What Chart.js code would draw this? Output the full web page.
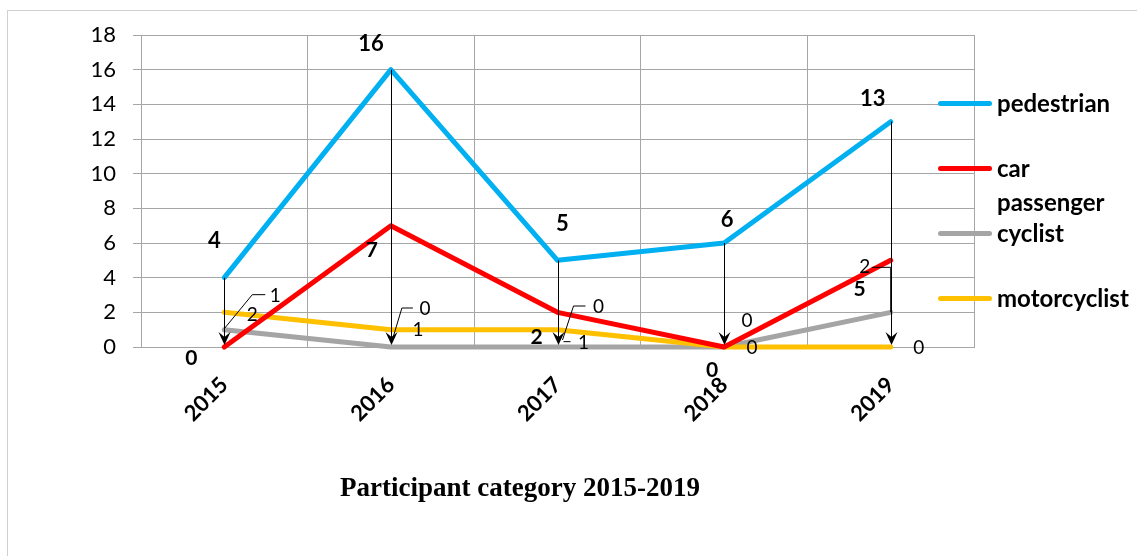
<!DOCTYPE html>
<html>
<head>
<meta charset="utf-8">
<script src="https://cdn.jsdelivr.net/npm/chart.js@4.4.1/dist/chart.umd.min.js"></script>
<style>
    html, body { margin: 0; padding: 0; background: #fff; }
    #contenedor { position: relative; width: 1137px; height: 556px; overflow: hidden; }
    #marco { position: absolute; left: 7px; top: 10px; width: 1200px; height: 600px; border: 1px solid #D0D0D0; }
    #grafico { position: absolute; left: 0; top: 0; }
    .leyenda-item { position: absolute; left: 938px; }
    .leyenda-linea { position: absolute; left: 0; width: 54px; height: 5px; border-radius: 3px; }
    .leyenda-texto { position: absolute; left: 59px; width: 125px; font: bold 24px Lato, sans-serif; line-height: 34px; color: #000; white-space: normal; }
    #titulo { position: absolute; left: 340px; top: 472px; font: bold 27px "Liberation Serif", serif; color: #000; white-space: nowrap; }
</style>
</head>
<body>
<div id="contenedor">
    <div id="marco"></div>
    <canvas id="grafico" width="1137" height="556"></canvas>
    <div id="leyenda"></div>
    <div id="titulo">Participant category 2015-2019</div>
</div>
<script>
const categorias = ['2015', '2016', '2017', '2018', '2019'];
const nombresSeries = ['pedestrian', 'car passenger', 'cyclist', 'motorcyclist'];
const pedestrian = [4, 16, 5, 6, 13];
const carPassenger = [0, 7, 2, 0, 5];
const cyclist = [1, 0, 0, 0, 2];
const motorcyclist = [2, 1, 1, 0, 0];
const ticksY = [0, 2, 4, 6, 8, 10, 12, 14, 16, 18];

const colores = ['#00B0F0', '#FF0000', '#A5A5A5', '#FFC000'];

// desplazamiento de cada etiqueta respecto a su punto (px)
const despEtiquetas = [
    [[-10, -37], [-20, -26], [5, -36], [3, -23], [-18, -23]],
    [[-33, 11], [-19, 25], [-21, 25], [-12, 23], [-31, 29]],
    [[51, -34], [34, -38], [41, -40], [23, -26], [-26, -45]],
    [[28, 3], [27, 0], [26, 13], [28, 1], [28, 1]]
];
// lineas guia de algunas etiquetas
const guias = [
    [null, null, null, null, null],
    [null, null, null, null, null],
    [[[0, -1], [28, -35], [41, -35]], [[2, -9], [11, -39], [22, -39]], [[5, -7], [16, -41], [28, -41]], null, [[0, 0], [0, -45], [-19, -45]]],
    [null, null, [[6, 12], [13, 12]], null, null]
];
const fuentesEtiquetas = ['bold 22px Lato', 'bold 21px Lato', '19px Lato', '19px Lato'];

// leyenda en html
const posLeyenda = [103, 168, 233, 298];
let htmlLeyenda = '';
nombresSeries.forEach((nombre, i) => {
    htmlLeyenda += `<div class="leyenda-item" style="top:${posLeyenda[i]}px">
        <div class="leyenda-linea" style="top:-2px;background:${colores[i]}"></div>
        <div class="leyenda-texto" style="top:-17px">${nombre}</div>
    </div>`;
});
document.getElementById('leyenda').innerHTML = htmlLeyenda;

const anotaciones = {
    id: 'anotaciones',
    afterDatasetsDraw(chart) {
        const ctx = chart.ctx;
        const xs = chart.scales.x;
        const ys = chart.scales.y;
        const base = ys.getPixelForValue(0);
        ctx.save();
        // flechas verticales desde pedestrian
        ctx.strokeStyle = '#000';
        ctx.fillStyle = '#000';
        ctx.lineWidth = 1;
        pedestrian.forEach((v, i) => {
            const x = Math.round(xs.getPixelForValue(i)) + 0.5;
            const y0 = ys.getPixelForValue(v);
            const punta = base - 2;
            ctx.beginPath();
            ctx.moveTo(x, y0);
            ctx.lineTo(x, punta - 4);
            ctx.stroke();
            ctx.beginPath();
            ctx.moveTo(x, punta);
            ctx.lineTo(x - 6, punta - 13);
            ctx.lineTo(x, punta - 8);
            ctx.lineTo(x + 6, punta - 13);
            ctx.closePath();
            ctx.fill();
        });
        // etiquetas
        chart.data.datasets.forEach((ds, d) => {
            ctx.font = fuentesEtiquetas[d];
            ctx.textAlign = 'center';
            ctx.textBaseline = 'middle';
            ds.data.forEach((v, i) => {
                const px = xs.getPixelForValue(i);
                const py = ys.getPixelForValue(v);
                const g = guias[d][i];
                if (g) {
                    ctx.beginPath();
                    g.forEach((p, k) => {
                        if (k === 0) ctx.moveTo(px + p[0], py + p[1]);
                        else ctx.lineTo(px + p[0], py + p[1]);
                    });
                    ctx.stroke();
                }
                const off = despEtiquetas[d][i];
                ctx.fillText(String(v), px + off[0], py + off[1]);
            });
        });
        ctx.restore();
    }
};

const series = [pedestrian, carPassenger, cyclist, motorcyclist];
const colorGrid = '#A6A6A6';

new Chart(document.getElementById('grafico').getContext('2d'), {
    type: 'line',
    data: {
        labels: categorias,
        datasets: series.map((s, i) => ({
            label: nombresSeries[i],
            data: s,
            borderColor: colores[i],
            backgroundColor: colores[i],
            borderWidth: 5,
            borderCapStyle: 'round',
            borderJoinStyle: 'round',
            pointRadius: 0,
            tension: 0,
            clip: false,
            order: [4, 1, 3, 2][i]
        }))
    },
    options: {
        responsive: false,
        animation: false,
        layout: { padding: { left: 0, top: 35, right: 163, bottom: 0 } },
        plugins: {
            legend: { display: false },
            tooltip: { enabled: false }
        },
        scales: {
            x: {
                offset: true,
                grid: { offset: true, color: colorGrid, drawTicks: false },
                border: { color: colorGrid },
                ticks: {
                    color: '#000',
                    font: { family: 'Lato', size: 22, weight: 'bold' },
                    minRotation: 45,
                    maxRotation: 45,
                    padding: 25
                },
                afterFit: (scale) => { scale.height = 209; }
            },
            y: {
                min: 0,
                max: 18,
                afterBuildTicks: (scale) => { scale.ticks = ticksY.map(v => ({ value: v })); },
                grid: { color: colorGrid, tickLength: 8 },
                border: { color: colorGrid },
                ticks: {
                    color: '#000',
                    font: { family: 'Lato', size: 22 },
                    padding: 17
                },
                afterFit: (scale) => { scale.width = 141; }
            }
        }
    },
    plugins: [anotaciones]
});
</script>
</body>
</html>
